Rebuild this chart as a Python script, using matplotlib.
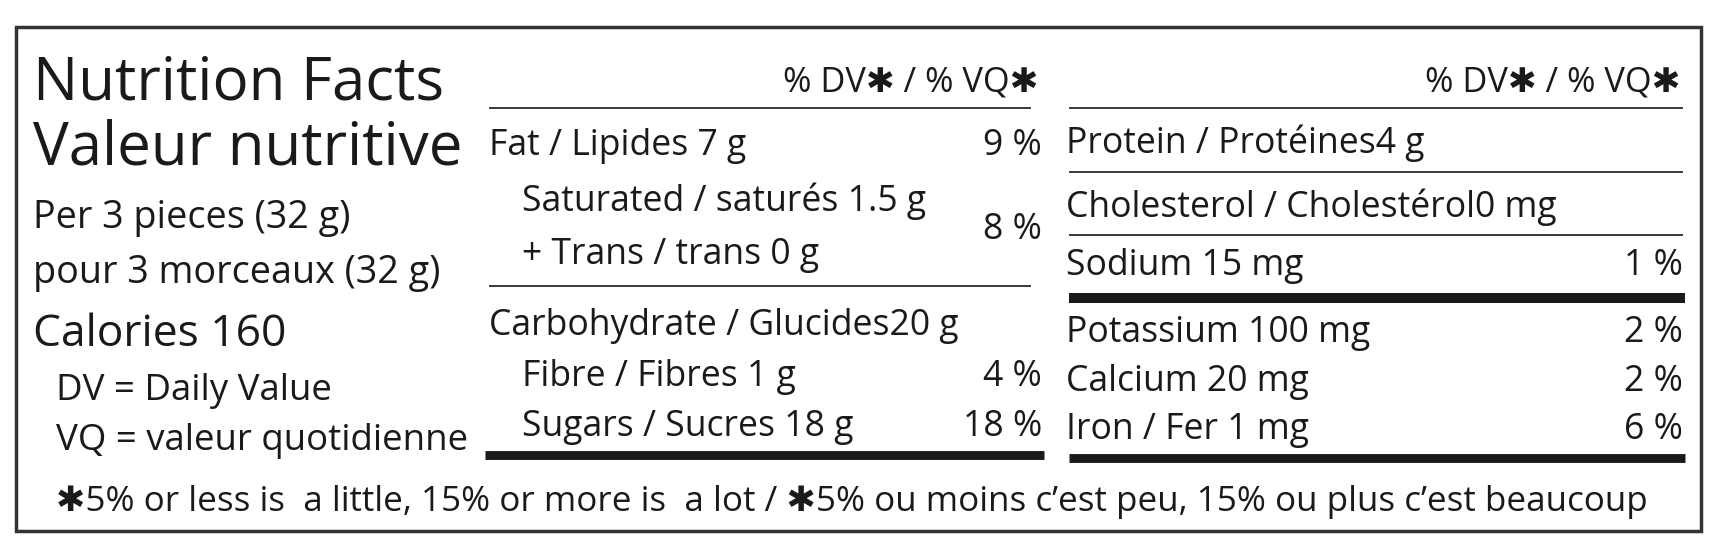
import matplotlib
matplotlib.use('Agg')
import matplotlib.pyplot as plt

# layout measured on a 1543 x 498 grid, scaled to the output size
W, H = 1543, 498
SCALE = 1714 / W
FAMILY = ['Open Sans', 'DejaVu Sans']

left_lines = ['Per 3 pieces (32 g)', 'pour 3 morceaux (32 g)']
calories = 'Calories 160'
legend_lines = ['DV = Daily Value', 'VQ = valeur quotidienne']

mid_rows = [('Fat / Lipides 7 g', '9 %'),
            ('Saturated / saturés 1.5 g', ''),
            ('+ Trans / trans 0 g', ''),
            ('Carbohydrate / Glucides20 g', ''),
            ('Fibre / Fibres 1 g', '4 %'),
            ('Sugars / Sucres 18 g', '18 %')]
mid_indent = [0, 1, 1, 0, 1, 1]
sat_trans_dv = '8 %'

right_rows = [('Protein / Protéines4 g', ''),
              ('Cholesterol / Cholestérol0 mg', ''),
              ('Sodium 15 mg', '1 %'),
              ('Potassium 100 mg', '2 %'),
              ('Calcium 20 mg', '2 %'),
              ('Iron / Fer 1 mg', '6 %')]

header = '% DV✱ / % VQ✱'
footnote = ('✱5% or less is  a little, 15% or more is  a lot / '
            '✱5% ou moins c’est peu, 15% ou plus c’est beaucoup')


def fs(px):
    return px * SCALE * 0.72


fig = plt.figure(figsize=(17.14, 5.53), dpi=100)
ax = fig.add_axes([0, 0, 1, 1])
ax.set_xlim(0, W)
ax.set_ylim(H, 0)
ax.axis('off')


def txt(x, y, s, size=30, ha='left'):
    ax.text(x, y, s, fontsize=fs(size), ha=ha, va='baseline',
            family=FAMILY, color='#1a1a1a')


def hline(x0, x1, y, lw):
    ax.plot([x0, x1], [y, y], color='#1a1a1a', lw=lw, solid_capstyle='butt')


# border
ax.add_patch(plt.Rectangle((14, 24), 1517, 454, fill=False, lw=2.5, ec='#333'))

# left block
txt(30, 90, 'Nutrition Facts', 54)
txt(30, 148, 'Valeur nutritive', 54)
for i, s in enumerate(left_lines):
    txt(30, 205 + i * 50, s, 34)
txt(30, 312, calories, 40)
for i, s in enumerate(legend_lines):
    txt(50, 360 + i * 45, s, 33)

# middle block
txt(935, 82, header, 31, ha='right')
hline(440, 928, 97, 1.2)
mid_y = [140, 190, 238, 302, 348, 393]
for (label, dv), ind, y in zip(mid_rows, mid_indent, mid_y):
    txt(440 + ind * 30, y, label, 32)
    if dv:
        txt(938, y, dv, 32, ha='right')
txt(938, 215, sat_trans_dv, 32, ha='right')
hline(440, 928, 258, 1.2)
hline(437, 940, 410, 8 * SCALE * 0.72)

# right block
txt(1513, 82, header, 31, ha='right')
hline(962, 1515, 97, 1.2)
right_y = [138, 195, 248, 308, 352, 395]
for (label, dv), y in zip(right_rows, right_y):
    txt(960, y, label, 32)
    if dv:
        txt(1515, y, dv, 32, ha='right')
hline(962, 1515, 155, 1.2)
hline(962, 1515, 212, 1.2)
hline(962, 1517, 268, 9 * SCALE * 0.72)
hline(962, 1517, 412, 8 * SCALE * 0.72)

# footnote
txt(50, 460, footnote, 31.5)

fig.savefig('out.png', dpi=100, facecolor='white')
